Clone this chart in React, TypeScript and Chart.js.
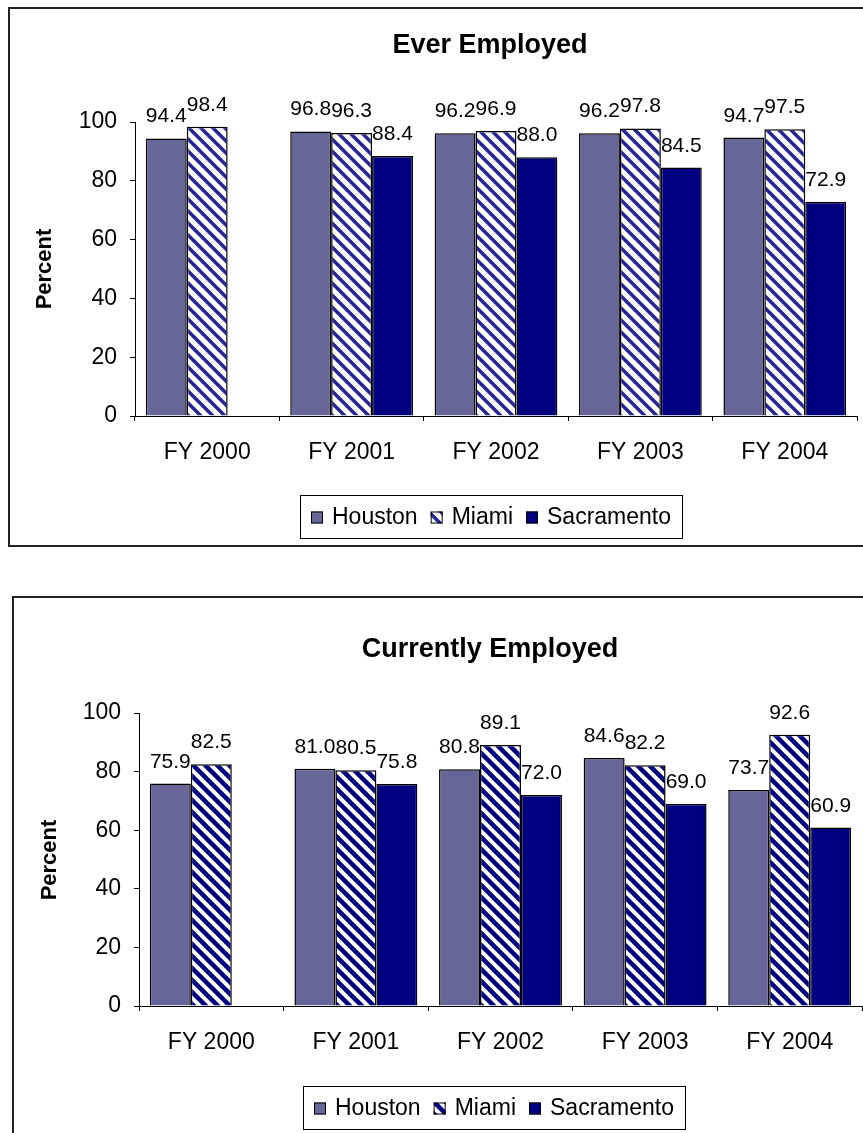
import React, { useEffect, useRef } from "react";
import { Chart, registerables } from "chart.js";
Chart.register(...registerables);

const categories = ["FY 2000", "FY 2001", "FY 2002", "FY 2003", "FY 2004"];
const seriesNames = ["Houston", "Miami", "Sacramento"];
const everHouston = [94.4, 96.8, 96.2, 96.2, 94.7];
const everMiami = [98.4, 96.3, 96.9, 97.8, 97.5];
const everSacramento = [null, 88.4, 88.0, 84.5, 72.9];
const currHouston = [75.9, 81.0, 80.8, 84.6, 73.7];
const currMiami = [82.5, 80.5, 89.1, 82.2, 92.6];
const currSacramento = [null, 75.8, 72.0, 69.0, 60.9];
const yTicks = [0, 20, 40, 60, 80, 100];

const FONT = "'Liberation Sans', Arial, sans-serif";
const HOUSTON = "#666699";
const SAC = "#000080";

function makeStripe(color: string, width: number, size: number) {
  const c = document.createElement("canvas");
  c.width = size;
  c.height = size;
  const g = c.getContext("2d")!;
  g.fillStyle = "#ffffff";
  g.fillRect(0, 0, size, size);
  g.strokeStyle = color;
  g.lineWidth = width;
  for (let k = -1; k <= 1; k++) {
    g.beginPath();
    g.moveTo(k * size - size, -size);
    g.lineTo(k * size + 2 * size, 2 * size);
    g.stroke();
  }
  return g.createPattern(c, "repeat")!;
}

type Geo = {
  title: string;
  titleX: number;
  titleY: number;
  yTitleX: number;
  yTitleY: number;
  legendLeft: number;
  legendTop: number;
  legendH: number;
  pad: { left: number; right: number; top: number; bottom: number };
};

const overlay = {
  id: "overlay",
  afterDatasetsDraw(chart: any) {
    const ctx = chart.ctx;
    ctx.save();
    ctx.font = `21px ${FONT}`;
    ctx.fillStyle = "#000";
    ctx.textAlign = "center";
    ctx.textBaseline = "alphabetic";
    chart.data.datasets.forEach((ds: any, di: number) => {
      const meta = chart.getDatasetMeta(di);
      meta.data.forEach((el: any, i: number) => {
        const v = ds.data[i];
        if (v == null) return;
        ctx.fillText(v.toFixed(1), el.x, el.y - 16);
      });
    });
    ctx.restore();
  },
  afterDraw(chart: any) {
    const o = chart.options.plugins.overlay as Geo & { pattern: CanvasPattern };
    const ctx = chart.ctx;
    ctx.save();
    ctx.fillStyle = "#000";
    ctx.textAlign = "center";
    ctx.textBaseline = "middle";
    ctx.font = `bold 27px ${FONT}`;
    ctx.fillText(o.title, o.titleX, o.titleY);
    ctx.save();
    ctx.translate(o.yTitleX, o.yTitleY);
    ctx.rotate(-Math.PI / 2);
    ctx.font = `bold 22px ${FONT}`;
    ctx.fillText("Percent", 0, 0);
    ctx.restore();

    // legend
    ctx.font = `23px ${FONT}`;
    const sw = 12, gapT = 9, gapI = 13, padL = 11, padR = 11;
    const fills = [HOUSTON, o.pattern, SAC];
    let w = padL + padR;
    seriesNames.forEach((n, i) => {
      w += sw + gapT + ctx.measureText(n).width + (i < seriesNames.length - 1 ? gapI : 0);
    });
    ctx.fillStyle = "#fff";
    ctx.fillRect(o.legendLeft, o.legendTop, w, o.legendH);
    ctx.strokeStyle = "#000";
    ctx.lineWidth = 1;
    ctx.strokeRect(o.legendLeft + 0.5, o.legendTop + 0.5, w, o.legendH);
    let x = o.legendLeft + padL;
    const cy = o.legendTop + o.legendH / 2;
    ctx.textAlign = "left";
    seriesNames.forEach((n, i) => {
      ctx.fillStyle = fills[i] as any;
      ctx.fillRect(x, cy - sw / 2 + 1, sw, sw);
      ctx.strokeStyle = "#000";
      ctx.strokeRect(x + 0.5, cy - sw / 2 + 1.5, sw - 1, sw - 1);
      x += sw + gapT;
      ctx.fillStyle = "#000";
      ctx.fillText(n, x, cy + 1);
      x += ctx.measureText(n).width + gapI;
    });
    ctx.restore();
  },
};

function BarChart(props: {
  houston: (number | null)[];
  miami: (number | null)[];
  sacramento: (number | null)[];
  stripeColor: string;
  stripeWidth: number;
  geo: Geo;
  width: number;
  height: number;
}) {
  const ref = useRef<HTMLCanvasElement>(null);
  useEffect(() => {
    const pattern = makeStripe(props.stripeColor, props.stripeWidth, 12);
    const common = { borderColor: "#000", borderWidth: 1.5, barPercentage: 1, categoryPercentage: 0.85 };
    const chart = new Chart(ref.current!, {
      type: "bar",
      data: {
        labels: categories,
        datasets: [
          { label: seriesNames[0], data: props.houston, backgroundColor: HOUSTON, ...common },
          { label: seriesNames[1], data: props.miami, backgroundColor: pattern, ...common },
          { label: seriesNames[2], data: props.sacramento, backgroundColor: SAC, ...common },
        ] as any,
      },
      options: {
        animation: false,
        responsive: false,
        maintainAspectRatio: false,
        layout: { padding: props.geo.pad },
        plugins: {
          legend: { display: false },
          title: { display: false },
          tooltip: { enabled: false },
          overlay: { ...props.geo, pattern },
        } as any,
        scales: {
          x: {
            offset: true,
            grid: { offset: true, drawOnChartArea: false, drawTicks: true, tickLength: 5, color: "#000" },
            border: { display: true, color: "#000", width: 1 },
            ticks: { color: "#000", font: { family: FONT, size: 23 }, padding: 18, maxRotation: 0 },
            afterFit: (s: any) => { s.height = 50; },
          },
          y: {
            min: 0,
            max: 100,
            grid: { drawOnChartArea: false, drawTicks: true, tickLength: 5, color: "#000" },
            border: { display: true, color: "#000", width: 1 },
            ticks: { color: "#000", font: { family: FONT, size: 23 }, padding: 13 },
            afterBuildTicks: (s: any) => { s.ticks = yTicks.map((v) => ({ value: v })); },
            afterFit: (s: any) => { s.width = 70; },
          },
        },
      },
      plugins: [overlay],
    });
    return () => chart.destroy();
  }, []);
  return <canvas ref={ref} width={props.width} height={props.height} style={{ display: "block" }} />;
}

export default function App() {
  return (
    <div style={{ position: "absolute", left: 0, top: 0, width: 863, height: 1133, overflow: "hidden", background: "#fff" }}>
      <div style={{ position: "absolute", left: 8, top: 7, width: 855, height: 540, boxSizing: "border-box", borderLeft: "2px solid #222", borderTop: "2px solid #222", borderBottom: "2px solid #222" }}>
        <BarChart
          houston={everHouston}
          miami={everMiami}
          sacramento={everSacramento}
          stripeColor="#262696"
          stripeWidth={3.5}
          width={853}
          height={536}
          geo={{
            title: "Ever Employed",
            titleX: 480,
            titleY: 37,
            yTitleX: 35,
            yTitleY: 260,
            legendLeft: 290,
            legendTop: 486,
            legendH: 43,
            pad: { left: 55, right: 6, top: 113, bottom: 79 },
          }}
        />
      </div>
      <div style={{ position: "absolute", left: 12, top: 596, width: 851, height: 537, boxSizing: "border-box", borderLeft: "2px solid #222", borderTop: "2px solid #222" }}>
        <BarChart
          houston={currHouston}
          miami={currMiami}
          sacramento={currSacramento}
          stripeColor="#000080"
          stripeWidth={4.5}
          width={849}
          height={535}
          geo={{
            title: "Currently Employed",
            titleX: 476,
            titleY: 52,
            yTitleX: 36,
            yTitleY: 262,
            legendLeft: 289,
            legendTop: 488,
            legendH: 43,
            pad: { left: 55, right: 1, top: 115, bottom: 77 },
          }}
        />
      </div>
    </div>
  );
}
